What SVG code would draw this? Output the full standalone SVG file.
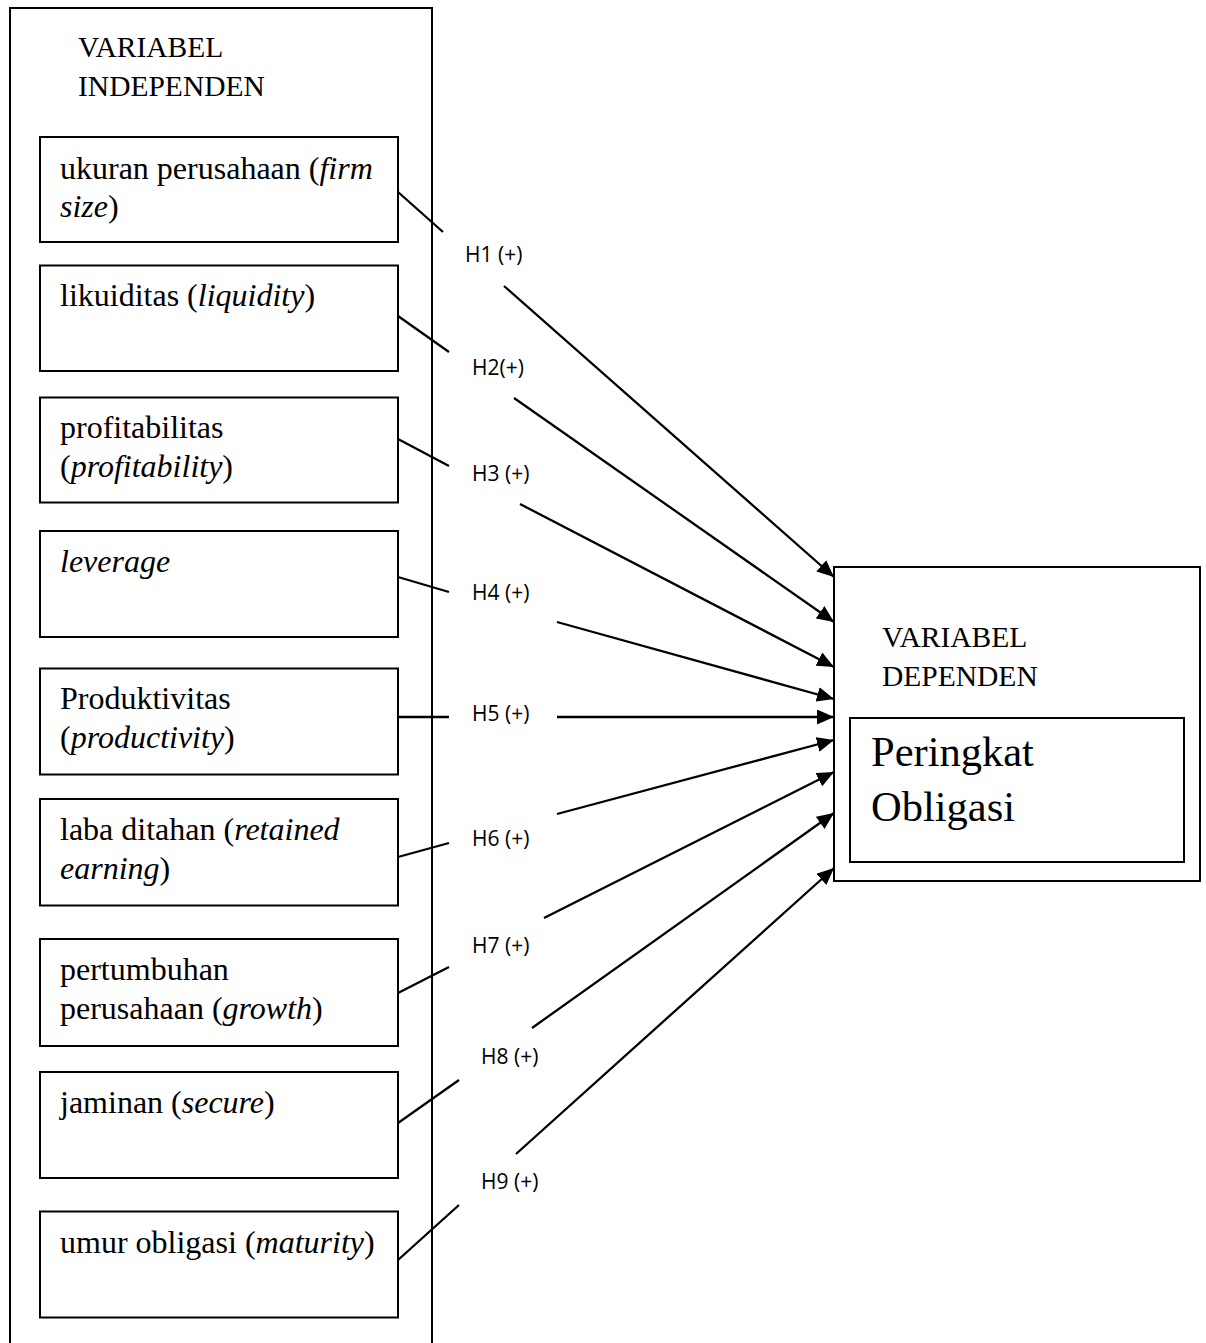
<svg xmlns="http://www.w3.org/2000/svg" width="1206" height="1343" viewBox="0 0 1206 1343">
<style>
.box{fill:none;stroke:#000;stroke-width:2}
.t{font-family:"Liberation Serif","Times New Roman",serif;font-size:32px;fill:#000}
.h{font-family:"Liberation Serif","Times New Roman",serif;font-size:29.5px;fill:#000}
.big{font-family:"Liberation Serif","Times New Roman",serif;font-size:42.5px;fill:#000}
.lbl{font-family:"Open Sans","Liberation Sans",sans-serif;font-size:21px;fill:#000}
.c{fill:none;stroke:#000;stroke-width:2.3}
</style>
<defs>
<marker id="ah" markerUnits="userSpaceOnUse" markerWidth="17" markerHeight="15" refX="17" refY="7.5" orient="auto">
<path d="M0,0 L17,7.5 L0,15 z" fill="#000"/>
</marker>
</defs>
<rect width="1206" height="1343" fill="#fff"/>
<g id="independen">
<path class="box" d="M10,1345 V8 H432 V1345"/>
<text class="h" x="78" y="57">VARIABEL</text>
<text class="h" x="78" y="96">INDEPENDEN</text>
</g>
<g id="n1"><rect class="box" x="40" y="137" width="358" height="105"/><text class="t" x="60" y="179">ukuran perusahaan (<tspan font-style="italic">firm</tspan></text><text class="t" x="60" y="217"><tspan font-style="italic">size</tspan>)</text></g>
<g id="n2"><rect class="box" x="40" y="265.5" width="358" height="105.5"/><text class="t" x="60" y="306">likuiditas (<tspan font-style="italic">liquidity</tspan>)</text></g>
<g id="n3"><rect class="box" x="40" y="397.5" width="358" height="105"/><text class="t" x="60" y="438">profitabilitas</text><text class="t" x="60" y="477">(<tspan font-style="italic">profitability</tspan>)</text></g>
<g id="n4"><rect class="box" x="40" y="531" width="358" height="106"/><text class="t" x="60" y="572" font-style="italic">leverage</text></g>
<g id="n5"><rect class="box" x="40" y="668.5" width="358" height="106"/><text class="t" x="60" y="709">Produktivitas</text><text class="t" x="60" y="748">(<tspan font-style="italic">productivity</tspan>)</text></g>
<g id="n6"><rect class="box" x="40" y="799" width="358" height="106.5"/><text class="t" x="60" y="840">laba ditahan (<tspan font-style="italic">retained</tspan></text><text class="t" x="60" y="879"><tspan font-style="italic">earning</tspan>)</text></g>
<g id="n7"><rect class="box" x="40" y="939" width="358" height="107"/><text class="t" x="60" y="980">pertumbuhan</text><text class="t" x="60" y="1019">perusahaan (<tspan font-style="italic">growth</tspan>)</text></g>
<g id="n8"><rect class="box" x="40" y="1072" width="358" height="106"/><text class="t" x="60" y="1113">jaminan (<tspan font-style="italic">secure</tspan>)</text></g>
<g id="n9"><rect class="box" x="40" y="1211.5" width="358" height="106"/><text class="t" x="60" y="1253">umur obligasi (<tspan font-style="italic">maturity</tspan>)</text></g>
<g id="dependen">
<rect class="box" x="834" y="567" width="366" height="314"/>
<text class="h" x="882" y="647">VARIABEL</text>
<text class="h" x="882" y="686">DEPENDEN</text>
<rect class="box" x="850" y="718" width="334" height="144"/>
<text class="big" x="871" y="766">Peringkat</text>
<text class="big" x="871" y="821">Obligasi</text>
</g>
<g id="connectors">
<path class="c" marker-end="url(#ah)" d="M398,192 L443,232 M504,286 L834,577"/>
<path class="c" marker-end="url(#ah)" d="M398,316 L449,352 M514,398 L834,622"/>
<path class="c" marker-end="url(#ah)" d="M398,439 L449,466 M520,504 L834,667"/>
<path class="c" marker-end="url(#ah)" d="M398,577 L449,592 M557,622 L834,699"/>
<path class="c" marker-end="url(#ah)" d="M398,717 L449,717 M557,717 L834,717"/>
<path class="c" marker-end="url(#ah)" d="M398,857 L449,843 M557,814 L834,740"/>
<path class="c" marker-end="url(#ah)" d="M398,993 L449,967 M544,918 L834,772"/>
<path class="c" marker-end="url(#ah)" d="M398,1123 L459,1080 M532,1028 L834,813"/>
<path class="c" marker-end="url(#ah)" d="M398,1260 L459,1205 M516,1154 L834,868"/>
<text class="lbl" x="465" y="262">H1 (+)</text>
<text class="lbl" x="472" y="375">H2(+)</text>
<text class="lbl" x="472" y="481">H3 (+)</text>
<text class="lbl" x="472" y="600">H4 (+)</text>
<text class="lbl" x="472" y="721">H5 (+)</text>
<text class="lbl" x="472" y="846">H6 (+)</text>
<text class="lbl" x="472" y="953">H7 (+)</text>
<text class="lbl" x="481" y="1064">H8 (+)</text>
<text class="lbl" x="481" y="1189">H9 (+)</text>
</g>
</svg>
